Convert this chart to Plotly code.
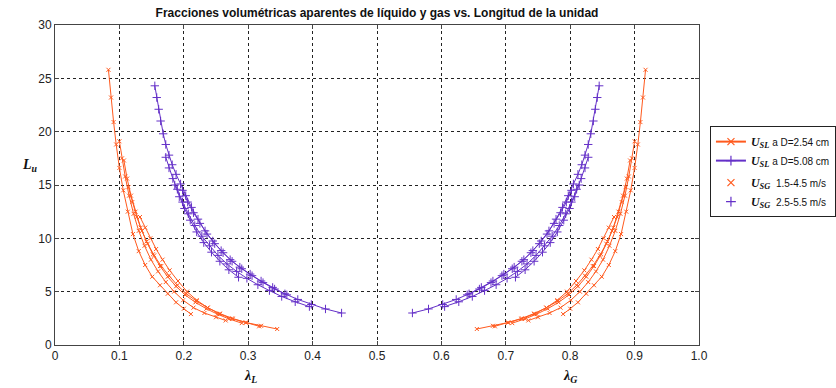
import plotly.graph_objects as go

# Liquid hold-up (lambda_L) vs unit length (Lu), D = 2.54 cm, one curve per U_SL
orange_lam = [
    [0.083, 0.087, 0.091, 0.095, 0.100, 0.106, 0.113, 0.121, 0.130, 0.140, 0.151, 0.163, 0.175, 0.188, 0.200, 0.211],
    [0.100, 0.104, 0.109, 0.115, 0.122, 0.130, 0.139, 0.149, 0.160, 0.172, 0.185, 0.199, 0.215, 0.232, 0.250, 0.265],
    [0.107, 0.112, 0.118, 0.125, 0.133, 0.142, 0.152, 0.163, 0.175, 0.188, 0.202, 0.218, 0.235, 0.252, 0.270, 0.290],
    [0.114, 0.120, 0.127, 0.135, 0.144, 0.154, 0.165, 0.177, 0.190, 0.204, 0.220, 0.237, 0.256, 0.275, 0.296, 0.317],
    [0.132, 0.140, 0.148, 0.157, 0.167, 0.178, 0.191, 0.205, 0.220, 0.237, 0.256, 0.276, 0.297, 0.320, 0.345],
]
orange_lu = [
    [25.8, 23.2, 20.9, 18.8, 16.6, 14.5, 12.5, 10.4, 8.8, 7.5, 6.4, 5.6, 4.8, 4.0, 3.4, 2.9],
    [19.1, 17.5, 15.8, 14.0, 12.3, 10.7, 9.3, 8.0, 6.9, 5.9, 5.0, 4.2, 3.5, 3.0, 2.6, 2.3],
    [17.3, 15.6, 14.0, 12.5, 11.0, 9.7, 8.5, 7.4, 6.4, 5.5, 4.7, 4.0, 3.4, 2.9, 2.45, 2.05],
    [14.8, 13.4, 12.0, 10.7, 9.5, 8.4, 7.4, 6.5, 5.6, 4.8, 4.1, 3.5, 2.95, 2.5, 2.1, 1.75],
    [12.0, 11.0, 10.0, 9.0, 8.0, 7.0, 6.0, 5.0, 4.2, 3.5, 2.9, 2.45, 2.1, 1.8, 1.5],
]

# Same quantities for D = 5.08 cm
purple_lam = [
    [0.155, 0.158, 0.161, 0.164, 0.168, 0.172, 0.177, 0.182, 0.188, 0.195, 0.203, 0.212, 0.222,
     0.233, 0.245, 0.258, 0.272, 0.287, 0.303, 0.320, 0.338, 0.357, 0.377, 0.398, 0.420, 0.445],
    [0.172, 0.177, 0.183, 0.190, 0.198, 0.207, 0.217, 0.228, 0.240, 0.253, 0.267, 0.282, 0.298,
     0.315, 0.333, 0.352, 0.373, 0.395],
    [0.186, 0.193, 0.201, 0.210, 0.220, 0.231, 0.243, 0.256, 0.270, 0.285],
    [0.198, 0.206, 0.215, 0.225, 0.236, 0.248, 0.261, 0.275, 0.290, 0.306, 0.323, 0.341, 0.360],
]
purple_lu = [
    [24.3, 23.2, 22.1, 21.0, 19.8, 18.8, 17.8, 16.9, 16.0, 15.1, 14.0, 12.9, 11.8,
     10.7, 9.75, 8.85, 8.0, 7.3, 6.65, 6.0, 5.4, 4.8, 4.27, 3.8, 3.38, 3.0],
    [17.6, 16.6, 15.6, 14.6, 13.4, 12.3, 11.2, 10.2, 9.3, 8.4, 7.6, 6.9, 6.25,
     5.65, 5.1, 4.55, 4.05, 3.6],
    [15.0, 13.9, 12.8, 11.7, 10.6, 9.6, 8.7, 7.85, 7.05, 6.35],
    [14.5, 13.4, 12.4, 11.4, 10.4, 9.5, 8.65, 7.85, 7.15, 6.5, 5.85, 5.25, 4.7],
]

x_tickvals = [0, 0.1, 0.2, 0.3, 0.4, 0.5, 0.6, 0.7, 0.8, 0.9, 1.0]
x_ticktext = ["0", "0.1", "0.2", "0.3", "0.4", "0.5", "0.6", "0.7", "0.8", "0.9", "1.0"]
y_tickvals = [0, 5, 10, 15, 20, 25, 30]

ORANGE = "#FF5A1E"
PURPLE = "#6430C8"

fig = go.Figure()


def add_family(lams, lus, color, symbol, size):
    for lam, lu in zip(lams, lus):
        # liquid fraction on the left, gas fraction (1 - lambda_L) on the right
        for xs in (lam, [1 - v for v in lam]):
            fig.add_trace(go.Scatter(
                x=xs, y=lu, mode="lines+markers", showlegend=False,
                line=dict(color=color, width=1),
                marker=dict(symbol=symbol, size=size, color=color,
                            line=dict(color=color, width=1)),
                hoverinfo="skip",
            ))


add_family(orange_lam, orange_lu, ORANGE, "x-thin-open", 4)
add_family(purple_lam, purple_lu, PURPLE, "cross-thin-open", 6)

usl = "<span style='font-family:Liberation Serif;font-size:12px'><b><i>U<sub>SL</sub></i></b></span>"
usg = "<span style='font-family:Liberation Serif;font-size:12px'><b><i>U<sub>SG</sub></i></b></span>"

legend_items = [
    (usl + " a D=2.54 cm", ORANGE, "lines+markers", "x-thin-open", "g1"),
    (usl + " a D=5.08 cm", PURPLE, "lines+markers", "cross-thin-open", "g1"),
    (usg + "  1.5-4.5 m/s", ORANGE, "markers", "x-thin-open", "g2"),
    (usg + "  2.5-5.5 m/s", PURPLE, "markers", "cross-thin-open", "g2"),
]
for name, color, mode, symbol, grp in legend_items:
    fig.add_trace(go.Scatter(
        x=[None], y=[None], mode=mode, name=name, legendgroup=grp,
        line=dict(color=color, width=2),
        marker=dict(symbol=symbol, size=7, color=color, line=dict(color=color, width=1.2)),
    ))

axis_common = dict(
    showgrid=True, gridcolor="#222222", griddash="dot", gridwidth=1,
    showline=True, linecolor="#444444", linewidth=1, mirror="allticks",
    ticks="inside", ticklen=4, tickcolor="#444444",
    zeroline=False,
    tickfont=dict(family="Liberation Sans", size=12, color="#222222"),
)

fig.update_layout(
    width=836, height=388,
    margin=dict(l=55, r=137, t=25, b=43, autoexpand=False),
    paper_bgcolor="white", plot_bgcolor="white",
    title=dict(
        text="<b>Fracciones volumétricas aparentes de líquido y gas vs. Longitud de la unidad</b>",
        x=0.5, xref="paper", xanchor="center",
        y=1 - 13 / 388, yref="container", yanchor="middle",
        font=dict(family="Liberation Sans", size=12, color="#111111"),
    ),
    xaxis=dict(range=[0, 1], tickvals=x_tickvals, ticktext=x_ticktext, **axis_common),
    yaxis=dict(range=[0, 30], tickvals=y_tickvals, **axis_common),
    legend=dict(
        x=1.017, y=0.684, xanchor="left", yanchor="top",
        bordercolor="#222222", borderwidth=1, bgcolor="white",
        font=dict(family="Liberation Sans", size=10, color="#111111"),
        tracegroupgap=3, itemwidth=30,
    ),
    showlegend=True,
)

label_font = dict(family="Liberation Serif", size=14, color="#111111")
fig.add_annotation(text="<b><i>L<sub>u</sub></i></b>", xref="paper", yref="paper",
                   x=-25 / 644, y=(345 - 165) / 320, xanchor="center", yanchor="middle",
                   showarrow=False, font=label_font)
fig.add_annotation(text="<b><i>λ<sub>L</sub></i></b>", xref="x", yref="paper",
                   x=0.303, y=-31 / 320, xanchor="center", yanchor="middle",
                   showarrow=False, font=label_font)
fig.add_annotation(text="<b><i>λ<sub>G</sub></i></b>", xref="x", yref="paper",
                   x=0.799, y=-31 / 320, xanchor="center", yanchor="middle",
                   showarrow=False, font=label_font)

fig.write_html("out.html")
